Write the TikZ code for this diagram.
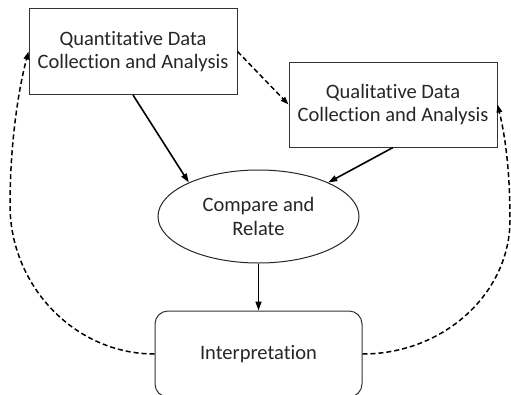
\documentclass[tikz,border=0pt]{standalone}
\usepackage{fontspec}
\setmainfont[Ligatures={NoCommon}]{Carlito}
\usetikzlibrary{shapes.geometric,arrows.meta}
\begin{document}
\begin{tikzpicture}[x=1pt,y=-1pt,
  txt/.style={font=\fontsize{20.5}{23.5}\selectfont, text=black!85, align=center},
  boxnode/.style={txt, draw=black!80, line width=1pt, rectangle, minimum width=208pt, minimum height=86pt, inner sep=0pt},
  ellnode/.style={txt, draw=black!85, line width=1pt, ellipse, minimum width=201pt, minimum height=93pt, inner sep=0pt},
  roundnode/.style={txt, draw=black!80, line width=1pt, rectangle, rounded corners=13pt, minimum width=207pt, minimum height=86pt, inner sep=0pt},
  solidarrow/.style={line width=1.6pt, -{Triangle[length=9pt,width=6pt]}},
  dasharrow/.style={line width=1.5pt, dash pattern=on 5pt off 3pt, -{Triangle[length=8pt,width=5.5pt]}}
]
\useasboundingbox (0,0) rectangle (511,394);
\fill[white] (0,0) rectangle (511,394);

\node[boxnode] (quant) at (133,51.5) {Quantitative Data\\Collection and Analysis};
\node[boxnode, minimum height=85pt] (qual) at (393,104.5) {Qualitative Data\\Collection and Analysis};
\node[ellnode] (cmp) at (258.5,216.5) {Compare and\\Relate};
\node[roundnode] (interp) at (258.5,354) {Interpretation};

\draw[solidarrow] (quant.south) -- (cmp.154);
\draw[solidarrow] (qual.south) -- (cmp.26);
\draw[solidarrow] (cmp.south) -- (interp.north);
\draw[dasharrow] (quant.east) -- (qual.west);

\coordinate (lmid) at (10,205);
\coordinate (rmid) at (510,220);
\draw[dasharrow] (interp.west) .. controls (75,354) and (10,286) .. (lmid)
  .. controls (10,150) and (17,95) .. (quant.west);
\draw[dasharrow] (interp.east) .. controls (444,354) and (510,293) .. (rmid)
  .. controls (510,170) and (505,135) .. (qual.east);
\end{tikzpicture}
\end{document}
